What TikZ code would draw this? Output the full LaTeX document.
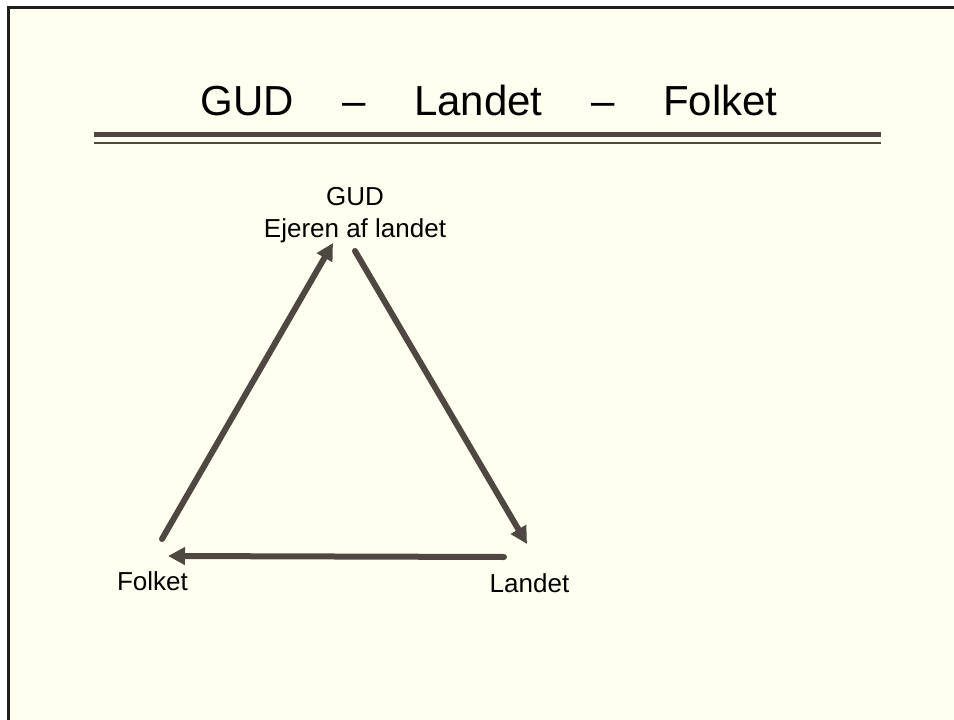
\documentclass[tikz,border=0pt]{standalone}
\usepackage{fontspec}
\setmainfont{Liberation Sans}
\usetikzlibrary{arrows.meta}
\definecolor{slidebg}{RGB}{255,255,240}
\definecolor{rulebrown}{RGB}{78,71,66}
\definecolor{framegray}{RGB}{30,30,30}

\begin{document}
\begin{tikzpicture}[x=1pt,y=-1pt,
    flow/.style={line width=6pt, color=rulebrown, line cap=round, -{Triangle[length=17pt,width=17pt]}},
    vertex/.style={font=\fontsize{26}{32}\selectfont, align=center, inner sep=0pt}]
        \useasboundingbox (0,0) rectangle (954,720);
        \fill[slidebg] (7,7) rectangle (954,720);
        \draw[framegray, line width=3pt] (8.5,720) -- (8.5,7.5) -- (954,7.5);

        % title and double rule
        \node[anchor=base, font=\fontsize{42}{50}\selectfont, inner sep=0pt] (title) at (489,115) {GUD\hspace{48.5pt}–\hspace{48.5pt}Landet\hspace{48.5pt}–\hspace{48.5pt}Folket};
        \fill[rulebrown] (94,132) rectangle (881,137);
        \fill[rulebrown] (94,142) rectangle (881,144);

        % the three corners (base = last line)
        \node[vertex, anchor=base] (gud) at (355,237) {GUD\\Ejeren af landet};
        \node[vertex, anchor=base] (folket) at (152.5,590) {Folket};
        \node[vertex, anchor=base] (landet) at (529.5,592) {Landet};

        \coordinate (folket-out) at (162,539);
        \coordinate (gud-in) at (333,243);
        \coordinate (gud-out) at (355,251);
        \coordinate (landet-in) at (527,544);
        \coordinate (landet-out) at (504,557);
        \coordinate (folket-in) at (168,556);

        \draw[flow] (folket-out) -- (gud-in);
        \draw[flow] (gud-out) -- (landet-in);
        \draw[flow] (landet-out) -- (folket-in);
\end{tikzpicture}
\end{document}
